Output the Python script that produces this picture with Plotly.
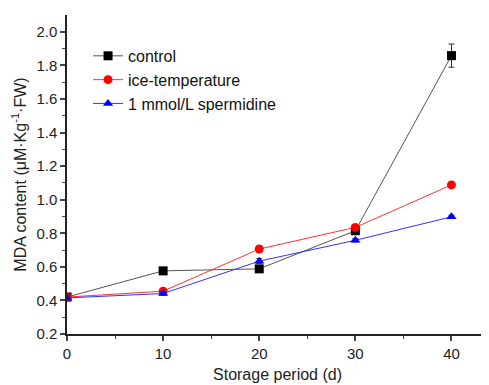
import plotly.graph_objects as go

days = [0, 10, 20, 30, 40]
control = [0.42, 0.576, 0.588, 0.815, 1.858]
control_err = [0.01, 0.01, 0.01, 0.015, 0.069]
ice = [0.42, 0.455, 0.706, 0.835, 1.088]
ice_err = [0.01, 0.01, 0.01, 0.015, 0.01]
sperm = [0.415, 0.441, 0.634, 0.758, 0.898]
sperm_err = [0.01, 0.01, 0.015, 0.01, 0.01]

names = ["control", "ice-temperature", "1 mmol/L spermidine"]
colors = ["#000000", "#ff0000", "#0000ff"]
line_colors = ["#555555", "#ff3333", "#3333ff"]
symbols = ["square", "circle", "triangle-up"]

fig = go.Figure()
for name, y, e, c, lc, s in zip(names, [control, ice, sperm],
                                [control_err, ice_err, sperm_err],
                                colors, line_colors, symbols):
    fig.add_trace(go.Scatter(
        x=days, y=y, name=name, mode="lines+markers",
        line=dict(color=lc, width=1),
        marker=dict(symbol=s, color=c, size=9),
        error_y=dict(type="data", array=e, visible=True, color="#333333",
                     thickness=1, width=3),
    ))

font = "Liberation Sans, Arial, sans-serif"
fig.update_layout(
    width=481, height=377,
    margin=dict(l=59, r=1, t=7, b=51),
    paper_bgcolor="white", plot_bgcolor="white",
    font=dict(family=font, size=15, color="#222222"),
    showlegend=True,
    legend=dict(x=0.05, y=0.925, xanchor="left", yanchor="top",
                font=dict(size=16, color="#111111"),
                bgcolor="rgba(0,0,0,0)", tracegroupgap=0, itemwidth=30),
    xaxis=dict(range=[0, 43.8], tickvals=[0, 10, 20, 30, 40],
               ticks="outside", ticklen=5, tickwidth=1.5, automargin=False,
               minor=dict(tickvals=[5, 15, 25, 35], ticks="outside", ticklen=3, tickwidth=1),
               showline=True, linecolor="#222222", linewidth=1.5,
               showgrid=False, zeroline=False,
               title=dict(text="Storage period (d)", font=dict(size=16), standoff=8)),
    yaxis=dict(range=[0.2, 2.1], tickvals=[0.2, 0.4, 0.6, 0.8, 1.0, 1.2, 1.4, 1.6, 1.8, 2.0],
               ticktext=["0.2", "0.4", "0.6", "0.8", "1.0", "1.2", "1.4", "1.6", "1.8", "2.0"],
               ticks="outside", ticklen=5, tickwidth=1.5, automargin=False,
               minor=dict(tickvals=[0.3, 0.5, 0.7, 0.9, 1.1, 1.3, 1.5, 1.7, 1.9], ticks="outside", ticklen=3, tickwidth=1),
               showline=True, linecolor="#222222", linewidth=1.5,
               showgrid=False, zeroline=False,
               title=dict(text="MDA content (μM·Kg<sup>-1</sup>·FW)", font=dict(size=16), standoff=6)),
)

fig.write_html("out.html")
